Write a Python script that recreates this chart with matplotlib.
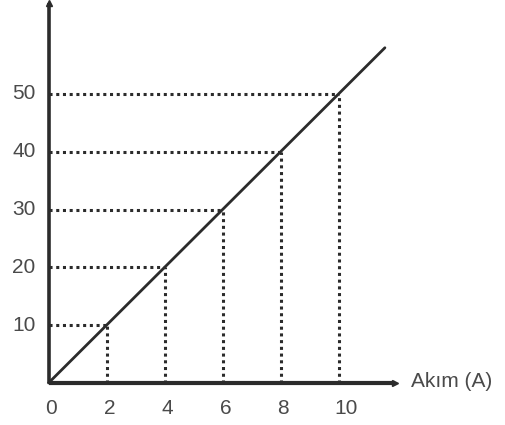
import matplotlib
matplotlib.use("Agg")
import matplotlib.pyplot as plt

# data
current = [2, 4, 6, 8, 10]
value = [10, 20, 30, 40, 50]
line_x = [0, 11.6]
line_y = [0, 58]
x_ticks = [0, 2, 4, 6, 8, 10]
y_ticks = [10, 20, 30, 40, 50]
x_label = "Akım (A)"

INK = "#2b2b2b"
TXT = "#4a4a4a"
FS = 15

fig = plt.figure(figsize=(5.05, 4.25), dpi=100)
ax = fig.add_axes([0, 0, 1, 1])
ax.set_xlim(-48.5 / 29, (505 - 48.5) / 29)
ax.set_ylim(-42 / 5.78, 383 / 5.78)
ax.axis("off")

# dotted guides
dot = dict(color=INK, linewidth=2.2, linestyle=(0, (1, 1.2)))
for x, y in zip(current, value):
    ax.plot([0, x], [y, y], **dot)
    ax.plot([x, x], [0, y], **dot)

# main line
ax.plot(line_x, line_y, color=INK, linewidth=2.0, solid_capstyle="round")

# axes
ax.plot([0, 11.95], [0, 0], color=INK, linewidth=3.0, solid_capstyle="butt")
ax.plot([0, 0], [0, 65.8], color=INK, linewidth=2.6, solid_capstyle="butt")
ax.plot([11.95], [0], marker=">", markersize=5, color=INK)
ax.plot([0], [65.8], marker="^", markersize=5, color=INK)

# tick labels
for x in x_ticks:
    ax.text(x + 0.1 + (0.15 if x >= 10 else 0), -4.4, str(x), ha="center",
            va="center", fontsize=FS, color=TXT, family="Liberation Sans")
for y in y_ticks:
    ax.text(-0.45, y, str(y), ha="right", va="center",
            fontsize=FS, color=TXT, family="Liberation Sans")

ax.text(12.5, 0.2, x_label, ha="left", va="center",
        fontsize=FS, color=TXT, family="Liberation Sans")

fig.savefig("out.png", dpi=100, facecolor="white")
